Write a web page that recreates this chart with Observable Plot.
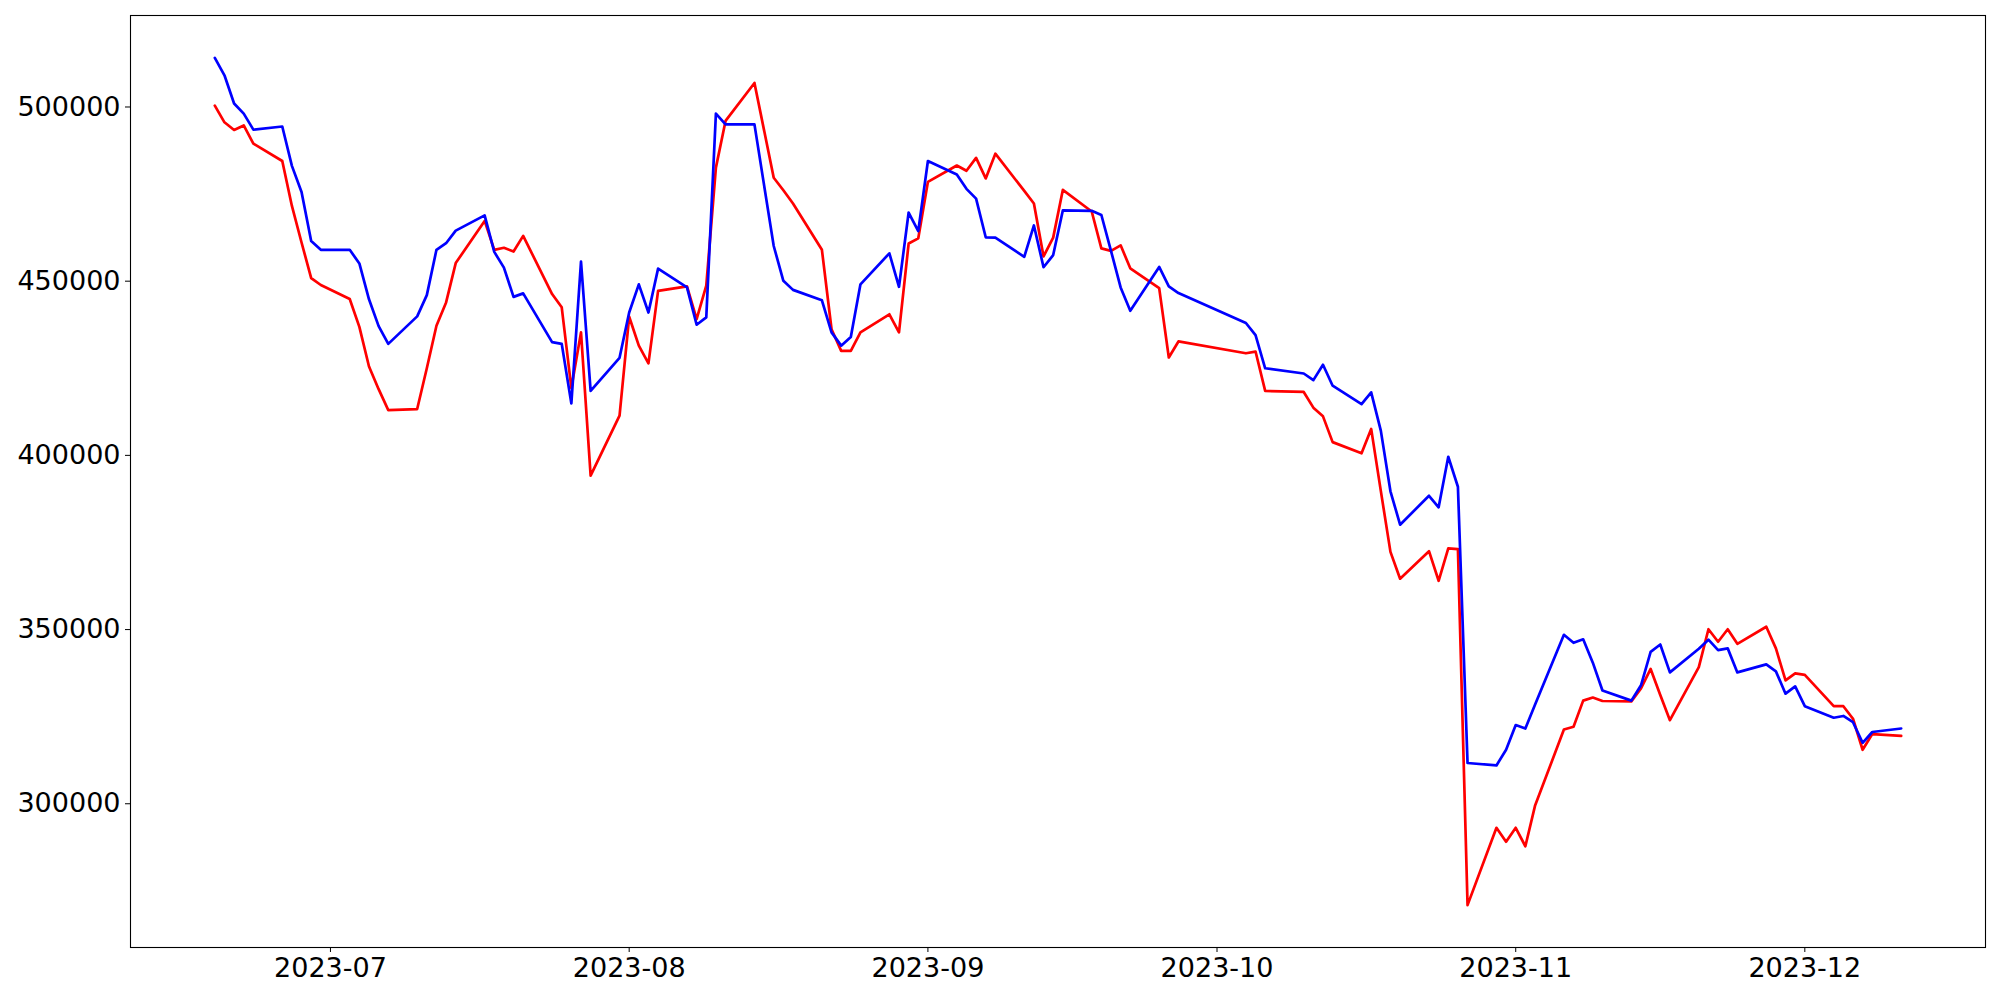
<!DOCTYPE html>
<html>
<head>
<meta charset="utf-8">
<script src="https://cdn.jsdelivr.net/npm/d3@7"></script>
<script src="https://cdn.jsdelivr.net/npm/@observablehq/plot@0.6"></script>
<style>
  html, body { margin: 0; padding: 0; background: #fff; }
</style>
</head>
<body>
<div id="chart"></div>
<script>
const dates = [
  "2023-06-19","2023-06-20","2023-06-21","2023-06-22","2023-06-23","2023-06-26","2023-06-27","2023-06-28","2023-06-29","2023-06-30",
  "2023-07-03","2023-07-04","2023-07-05","2023-07-06","2023-07-07","2023-07-10","2023-07-11","2023-07-12","2023-07-13","2023-07-14",
  "2023-07-17","2023-07-18","2023-07-19","2023-07-20","2023-07-21","2023-07-24","2023-07-25","2023-07-26","2023-07-27","2023-07-28","2023-07-31",
  "2023-08-01","2023-08-02","2023-08-03","2023-08-04","2023-08-07","2023-08-08","2023-08-09","2023-08-10","2023-08-11","2023-08-14",
  "2023-08-16","2023-08-17","2023-08-18","2023-08-21","2023-08-22","2023-08-23","2023-08-24","2023-08-25","2023-08-28","2023-08-29","2023-08-30","2023-08-31",
  "2023-09-01","2023-09-04","2023-09-05","2023-09-06","2023-09-07","2023-09-08","2023-09-11","2023-09-12","2023-09-13","2023-09-14","2023-09-15",
  "2023-09-18","2023-09-19","2023-09-20","2023-09-21","2023-09-22","2023-09-25","2023-09-26","2023-09-27",
  "2023-10-04","2023-10-05","2023-10-06","2023-10-10","2023-10-11","2023-10-12","2023-10-13","2023-10-16","2023-10-17","2023-10-18","2023-10-19","2023-10-20",
  "2023-10-23","2023-10-24","2023-10-25","2023-10-26","2023-10-27","2023-10-30","2023-10-31",
  "2023-11-01","2023-11-02","2023-11-03","2023-11-06","2023-11-07","2023-11-08","2023-11-09","2023-11-10","2023-11-13","2023-11-14","2023-11-15","2023-11-16","2023-11-17",
  "2023-11-20","2023-11-21","2023-11-22","2023-11-23","2023-11-24","2023-11-27","2023-11-28","2023-11-29","2023-11-30",
  "2023-12-01","2023-12-04","2023-12-05","2023-12-06","2023-12-07","2023-12-08","2023-12-11"
];

const redValues = [
  500400,495600,493400,494700,489500,484500,471600,461100,450900,448900,
  444900,436900,425500,419000,413000,413300,425000,437200,443900,455200,
  467300,459000,459600,458500,463000,446300,442500,419300,435300,394200,411400,
  439800,431500,426400,447200,448500,439100,448700,482600,496000,506900,
  479700,476100,472300,459000,436200,430000,430000,435300,440500,435300,460800,462300,
  478500,483200,481700,485400,479500,486600,475900,472300,457100,462500,476200,
  470000,459400,458700,460300,453700,448000,428100,432700,
  429300,429800,418500,418200,413700,411200,403800,400600,407600,389800,372300,364600,
  372500,364000,373300,373100,270900,293100,289100,
  293100,287800,299400,321300,322100,329600,330500,329500,329400,333100,338700,331200,324000,
  339200,350100,346500,350100,345900,350800,344600,335400,337400,
  337000,328000,328000,324400,315500,320000,319500
];

const blueValues = [
  514100,509100,501000,498100,493500,494400,483100,475600,461500,459000,
  459000,455100,444800,437100,432000,439900,446000,459000,460900,464500,
  468900,458400,453900,445500,446500,432500,432000,414900,455600,418500,428000,
  441000,449100,441000,453600,448200,437500,439600,498100,495000,495000,
  460100,450100,447500,444500,435300,431500,434000,449100,458000,448400,469700,464400,
  484500,480600,476500,473700,462600,462500,457000,466000,454000,457500,470300,
  470200,469000,458700,448200,441500,454100,448500,446600,
  438000,434500,425000,423500,421600,426000,420000,414700,418100,407100,389700,380100,
  388400,385100,399600,391000,311700,311000,315500,
  322600,321600,328400,348500,346200,347200,340500,332500,329600,334000,343600,345700,337700,
  344500,347100,344100,344600,337700,340000,338000,331600,333700,
  328000,324700,325200,323400,317500,320600,321600
];

const xTickDates = ["2023-07-01","2023-08-01","2023-09-01","2023-10-01","2023-11-01","2023-12-01"];
const yTicks = [300000, 350000, 400000, 450000, 500000];

const parse = d3.utcParse("%Y-%m-%d");
const data = dates.map((d, i) => ({date: parse(d), red: redValues[i], blue: blueValues[i]}));

const [x0, x1] = d3.extent(data, d => d.date);
const xPad = (x1 - x0) * 0.05;
const [y0, y1] = d3.extent(redValues.concat(blueValues));
const yPad = (y1 - y0) * 0.05;

const chart = Plot.plot({
  width: 2000,
  height: 1000,
  marginLeft: 130,
  marginRight: 15,
  marginTop: 15,
  marginBottom: 53,
  style: {fontFamily: "'DejaVu Sans', sans-serif", fontSize: "27px", color: "black", background: "white"},
  x: {type: "utc", domain: [new Date(+x0 - xPad), new Date(+x1 + xPad)]},
  y: {domain: [y0 - yPad, y1 + yPad]},
  marks: [
    Plot.axisX({ticks: xTickDates.map(parse), tickFormat: d3.utcFormat("%Y-%m"), tickSize: 5, tickPadding: 5, label: null, stroke: "black", fill: "black"}),
    Plot.axisY({ticks: yTicks, tickFormat: d3.format("d"), tickSize: 5, tickPadding: 5, label: null, stroke: "black", fill: "black"}),
    Plot.lineY(data, {x: "date", y: "red", stroke: "#ff0000", strokeWidth: 2.7}),
    Plot.lineY(data, {x: "date", y: "blue", stroke: "#0000ff", strokeWidth: 2.7}),
    Plot.frame({stroke: "black", strokeWidth: 1.1})
  ]
});
document.getElementById("chart").appendChild(chart);
</script>
</body>
</html>
